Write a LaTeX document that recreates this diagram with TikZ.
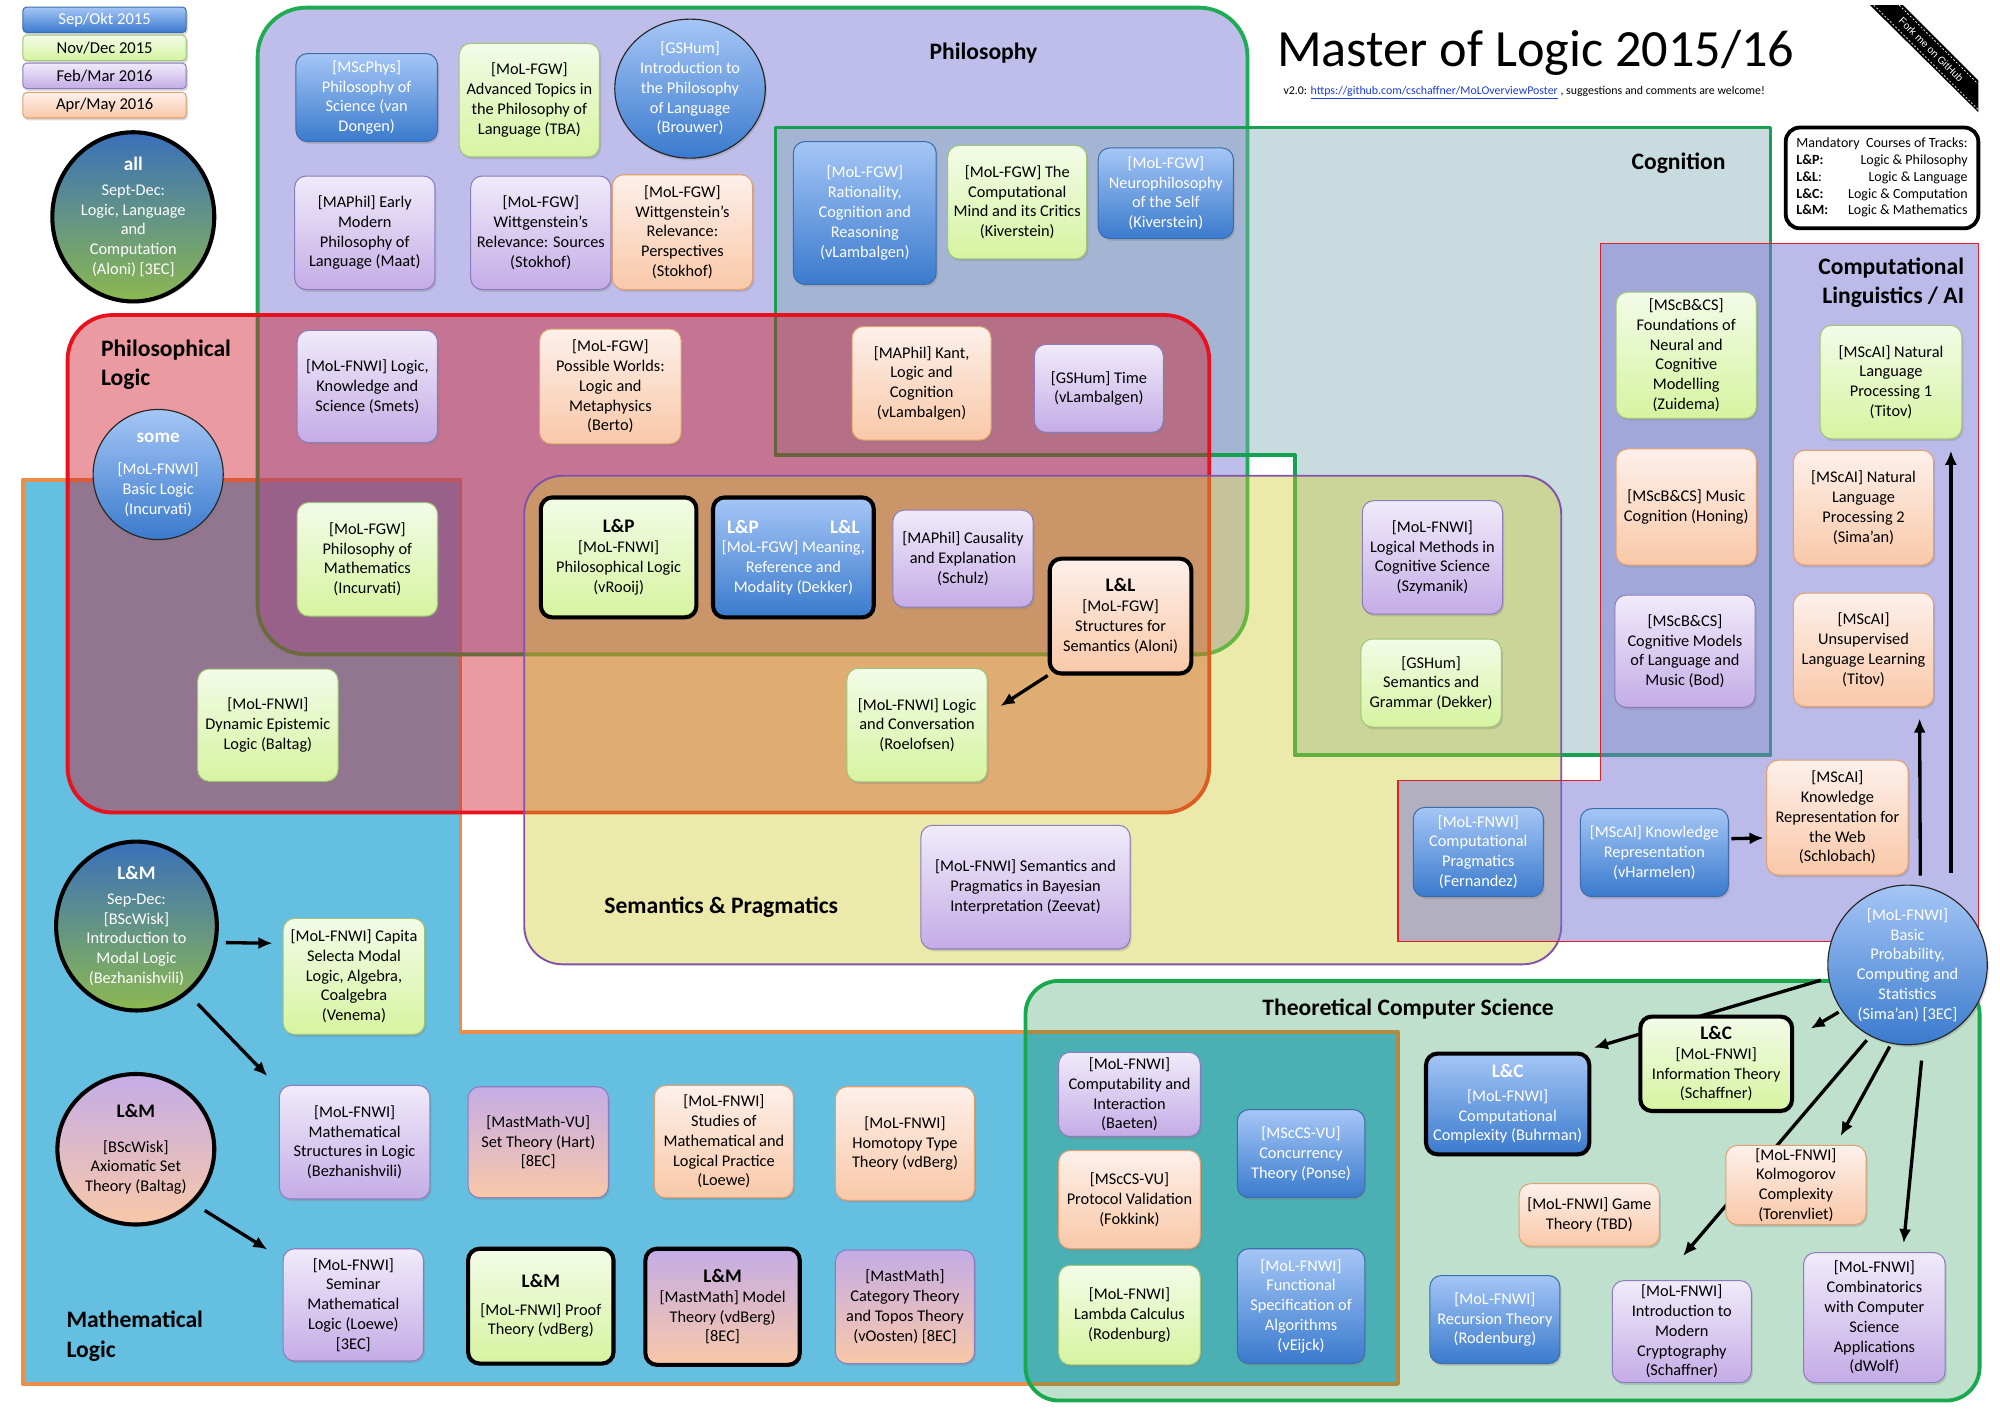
\documentclass[tikz,border=0pt]{standalone}
\usepackage{fontspec}
\setmainfont{Carlito}
\newfontfamily\ribbonfont{Liberation Sans}
\usepackage{xcolor}
\usetikzlibrary{shapes.geometric, arrows.meta, positioning, calc, shadows}

\newcommand\crsfont{\fontsize{12.8}{15.5}\selectfont}
\newcommand\hdfont{\fontsize{15}{18}\selectfont\bfseries}
\newcommand\legfont{\fontsize{13}{15}\selectfont}
\newcommand\areafont{\fontsize{18.5}{23}\selectfont\bfseries}
\newcommand\mandfont{\fontsize{11}{13.2}\selectfont}

% semester colours
\definecolor{sepTop}{RGB}{165,198,246}
\definecolor{sepBot}{RGB}{58,122,205}
\definecolor{sepLine}{RGB}{62,108,170}
\definecolor{novTop}{RGB}{243,251,232}
\definecolor{novBot}{RGB}{214,244,160}
\definecolor{novLine}{RGB}{160,196,120}
\definecolor{febTop}{RGB}{240,235,250}
\definecolor{febBot}{RGB}{196,172,230}
\definecolor{febLine}{RGB}{140,124,190}
\definecolor{aprTop}{RGB}{253,240,234}
\definecolor{aprBot}{RGB}{249,200,168}
\definecolor{aprLine}{RGB}{226,160,110}
\definecolor{allTop}{RGB}{58,112,186}
\definecolor{allBot}{RGB}{140,184,80}
\definecolor{linkBlue}{RGB}{30,60,220}
% region colours
\definecolor{mathFill}{RGB}{100,191,224}
\definecolor{mathLine}{RGB}{234,142,72}
\definecolor{philFill}{RGB}{127,123,211}
\definecolor{philLine}{RGB}{30,172,82}
\definecolor{cognFill}{RGB}{124,171,181}
\definecolor{cognLine}{RGB}{24,160,82}
\definecolor{plogFill}{RGB}{207,21,35}
\definecolor{plogLine}{RGB}{232,18,30}
\definecolor{semFill}{RGB}{207,202,42}
\definecolor{semLine}{RGB}{128,82,168}
\definecolor{clFill}{RGB}{122,118,210}
\definecolor{clLine}{RGB}{226,30,40}
\definecolor{tcsFill}{RGB}{0,132,52}
\definecolor{tcsLine}{RGB}{24,168,78}

\pgfdeclarelayer{regions}
\pgfdeclarelayer{links}
\pgfsetlayers{regions,links,main}

\tikzset{
  course/.style={rounded corners=9pt, line width=0.8pt, align=center, font=\crsfont, inner sep=1pt,
    drop shadow={opacity=0.3, shadow xshift=1.2pt, shadow yshift=-1.8pt}},
  sepokt/.style={course, draw=sepLine, top color=sepTop, bottom color=sepBot, text=white},
  novdec/.style={course, draw=novLine, top color=novTop, bottom color=novBot},
  febmar/.style={course, draw=febLine, top color=febTop, bottom color=febBot},
  aprmay/.style={course, draw=aprLine, top color=aprTop, bottom color=aprBot},
  mixed/.style={course, draw=febLine, top color=febBot, bottom color=aprBot},
  track/.style={draw=black, line width=3.2pt},
  thinline/.style={draw=black!85, line width=0.9pt},
  circnode/.style={ellipse, inner sep=0pt},
  legend/.style={minimum width=128pt, minimum height=20pt, rounded corners=3pt, font=\legfont},
  region/.style={line width=3pt, line join=round},
  area/.style={font=\areafont, align=left, inner sep=0pt},
  arr/.style={-{Latex[length=11pt,width=9.5pt]}, line width=2.6pt},
}

\begin{document}
\begin{tikzpicture}[x=1pt, y=-1pt]
    \useasboundingbox (0,0) rectangle (1568,1109);

    % Areas
    \begin{pgfonlayer}{regions}
    \draw[region, draw=mathLine, fill=mathFill] (18,376) -- (361,376) -- (361,809) -- (1096,809) -- (1096,1085) -- (18,1085) -- cycle;
    \draw[region, draw=philLine, fill=philFill, fill opacity=0.5, rounded corners=38pt] (202,6) rectangle (978,513);
    \draw[region, draw=cognLine, fill=cognFill, fill opacity=0.42] (608,100) -- (1388,100) -- (1388,592) -- (1015,592) -- (1015,357) -- (608,357) -- cycle;
    \draw[region, draw=plogLine, fill=plogFill, fill opacity=0.43, rounded corners=35pt] (53,247) rectangle (948,637);
    \draw[region, line width=1.5pt, draw=semLine, fill=semFill, fill opacity=0.4, rounded corners=30pt] (411,373) rectangle (1224,756);
    \draw[region, line width=1pt, draw=clLine, fill=clFill, fill opacity=0.5] (1255,191) -- (1551,191) -- (1551,738) -- (1096,738) -- (1096,612) -- (1255,612) -- cycle;
    \draw[region, draw=tcsLine, fill=tcsFill, fill opacity=0.25, rounded corners=26pt] (804,769) rectangle (1552,1098);
    \end{pgfonlayer}

    % Area titles
    \node[area] (tPhil) at (771,42) {Philosophy};
    \node[area] (tCogn) at (1316,128) {Cognition};
    \node[area, anchor=west] (tPlog) at (79,286) {Philosophical\\Logic};
    \node[area, anchor=east, align=right] (tCL) at (1540,221.5) {Computational\\Linguistics / AI};
    \node[area] (tSem) at (565.5,711) {Semantics \& Pragmatics};
    \node[area, anchor=west] (tMath) at (52,1047.5) {Mathematical\\Logic};
    \node[area] (tTCS) at (1104,791) {Theoretical Computer Science};

    % Legend
    \node[sepokt, legend] (legSep) at (82,15.5) {Sep/Okt 2015};
    \node[novdec, legend] (legNov) at (82,37.5) {Nov/Dec 2015};
    \node[febmar, legend] (legFeb) at (82,59.5) {Feb/Mar 2016};
    \node[aprmay, legend] (legApr) at (82,82.5) {Apr/May 2016};
    \node[course, circnode, track, top color=allTop, bottom color=allBot, text=white, minimum width=127pt, minimum height=121pt] (allCirc) at (104.5,170) {{\hdfont all}\\[4pt]Sept-Dec:\\Logic, Language\\and\\Computation\\(Aloni) [3EC]};

    % Title
    \node[font=\fontsize{41}{45}\selectfont, anchor=base] (title) at (1204,52) {Master of Logic 2015/16};
    \node[font=\fontsize{9.3}{11}\selectfont, anchor=base] (version) at (1195,74) {v2.0: \textcolor{linkBlue}{\underline{https://github.com/cschaffner/MoLOverviewPoster}} , suggestions and comments are welcome!};
    \node[draw, fill=white, line width=3pt, rounded corners=11pt, minimum width=151pt, minimum height=79pt, font=\mandfont, inner sep=0pt] (tracks) at (1475.5,139.5) {\begin{tabular}{@{}l@{}r@{}}
      \multicolumn{2}{@{}l@{}}{Mandatory\ \ Courses of Tracks:}\\
      \textbf{L\&P:} & Logic \& Philosophy\\
      \textbf{L\&L}: & Logic \& Language\\
      \textbf{L\&C:} & Logic \& Computation\\
      \textbf{L\&M:} & Logic \& Mathematics
    \end{tabular}};

    % Fork ribbon
    \fill (1466,4) -- (1492,4) -- (1551,63) -- (1551,88) -- cycle;
    \draw[white, line width=0.5pt, dash pattern=on 1.5pt off 1.5pt] (1469,4) -- (1551,86) (1489,4) -- (1551,66);
    \node[text=white, font=\ribbonfont\fontsize{8}{9}\selectfont, rotate=-45, inner sep=0pt] (fork) at (1514,39) {Fork me on GitHub};

    % Philosophy
    \node[sepokt, minimum width=111pt, minimum height=69pt] (phSci) at (287.5,76.5) {[MScPhys]\\Philosophy of\\Science (van\\Dongen)};
    \node[novdec, minimum width=110pt, minimum height=89pt] (phAdv) at (415,78.5) {[MoL-FGW]\\Advanced Topics in\\the Philosophy of\\Language (TBA)};
    \node[sepokt, circnode, thinline, minimum width=118pt, minimum height=109pt] (phIntro) at (541,69.5) {[GSHum]\\Introduction to\\the Philosophy\\of Language\\(Brouwer)};
    \node[febmar, minimum width=110pt, minimum height=89pt] (phEarly) at (286,182.5) {[MAPhil] Early\\Modern\\Philosophy of\\Language (Maat)};
    \node[febmar, minimum width=110pt, minimum height=89pt] (phWittA) at (424,182.5) {[MoL-FGW]\\Wittgenstein's\\Relevance: Sources\\(Stokhof)};
    \node[aprmay, minimum width=110pt, minimum height=90pt] (phWittB) at (535,182) {[MoL-FGW]\\Wittgenstein's\\Relevance:\\Perspectives\\(Stokhof)};

    % Cognition
    \node[sepokt, minimum width=112pt, minimum height=112pt] (cgRat) at (678,167) {[MoL-FGW]\\Rationality,\\Cognition and\\Reasoning\\(vLambalgen)};
    \node[novdec, minimum width=109pt, minimum height=89pt] (cgMind) at (797.5,158.5) {[MoL-FGW] The\\Computational\\Mind and its Critics\\(Kiverstein)};
    \node[sepokt, minimum width=106pt, minimum height=71pt] (cgSelf) at (914,151.5) {[MoL-FGW]\\Neurophilosophy\\of the Self\\(Kiverstein)};

    % Philosophical Logic
    \node[febmar, minimum width=110pt, minimum height=88pt] (plSmets) at (288,303) {[MoL-FNWI] Logic,\\Knowledge and\\Science (Smets)};
    \node[aprmay, minimum width=111pt, minimum height=90pt] (plWorlds) at (478.5,303) {[MoL-FGW]\\Possible Worlds:\\Logic and\\Metaphysics\\(Berto)};
    \node[aprmay, minimum width=109pt, minimum height=89pt] (plKant) at (722.5,300.5) {[MAPhil] Kant,\\Logic and\\Cognition\\(vLambalgen)};
    \node[febmar, minimum width=101pt, minimum height=69pt] (plTime) at (861.5,304.5) {[GSHum] Time\\(vLambalgen)};
    \node[sepokt, circnode, thinline, minimum width=102pt, minimum height=102pt] (plBasic) at (124,372) {{\hdfont some}\\[10pt]{[MoL-FNWI]}\\Basic Logic\\(Incurvati)};
    \node[novdec, minimum width=110pt, minimum height=89pt] (plMath) at (288,438.5) {[MoL-FGW]\\Philosophy of\\Mathematics\\(Incurvati)};
    \node[novdec, minimum width=110pt, minimum height=88pt] (plDEL) at (210,568.5) {[MoL-FNWI]\\Dynamic Epistemic\\Logic (Baltag)};

    % Semantics & Pragmatics
    \node[novdec, track, minimum width=122pt, minimum height=94pt] (spPhil) at (485,437) {{\hdfont L\&P}\\{[MoL-FNWI]}\\Philosophical Logic\\(vRooij)};
    \node[sepokt, track, minimum width=126pt, minimum height=94pt] (spMeaning) at (622,437) {\makebox[104pt]{\hdfont L\&P\hfill L\&L}\\{[MoL-FGW]} Meaning,\\Reference and\\Modality (Dekker)};
    \node[febmar, minimum width=110pt, minimum height=76pt] (spCaus) at (755,438) {[MAPhil] Causality\\and Explanation\\(Schulz)};
    \node[aprmay, track, minimum width=111pt, minimum height=90pt] (spStruct) at (878.5,483) {{\hdfont L\&L}\\{[MoL-FGW]}\\Structures for\\Semantics (Aloni)};
    \node[novdec, minimum width=110pt, minimum height=89pt] (spConv) at (719,568.5) {[MoL-FNWI] Logic\\and Conversation\\(Roelofsen)};
    \node[febmar, minimum width=164pt, minimum height=97pt] (spBayes) at (804,695.5) {[MoL-FNWI] Semantics and\\Pragmatics in Bayesian\\Interpretation (Zeevat)};
    \node[febmar, minimum width=110pt, minimum height=89pt] (spLogMeth) at (1123,437) {[MoL-FNWI]\\Logical Methods in\\Cognitive Science\\(Szymanik)};
    \node[novdec, minimum width=110pt, minimum height=69pt] (spGrammar) at (1122,535.5) {[GSHum]\\Semantics and\\Grammar (Dekker)};

    % Computational Linguistics / AI
    \node[novdec, minimum width=110pt, minimum height=99pt] (clNeural) at (1322,278.5) {[MScB\&CS]\\Foundations of\\Neural and\\Cognitive\\Modelling\\(Zuidema)};
    \node[aprmay, minimum width=110pt, minimum height=91pt] (clMusic) at (1322,397.5) {[MScB\&CS] Music\\Cognition (Honing)};
    \node[febmar, minimum width=110pt, minimum height=88pt] (clModels) at (1321,510.5) {[MScB\&CS]\\Cognitive Models\\of Language and\\Music (Bod)};
    \node[novdec, minimum width=111pt, minimum height=89pt] (clNLPa) at (1482.5,299.5) {[MScAI] Natural\\Language\\Processing 1\\(Titov)};
    \node[aprmay, minimum width=110pt, minimum height=90pt] (clNLPb) at (1461,398) {[MScAI] Natural\\Language\\Processing 2\\(Sima'an)};
    \node[aprmay, minimum width=110pt, minimum height=89pt] (clULL) at (1461,509.5) {[MScAI]\\Unsupervised\\Language Learning\\(Titov)};
    \node[sepokt, minimum width=102pt, minimum height=70pt] (clPrag) at (1159,668) {[MoL-FNWI]\\Computational\\Pragmatics\\(Fernandez)};
    \node[sepokt, minimum width=116pt, minimum height=69pt] (clKR) at (1297,668.5) {[MScAI] Knowledge\\Representation\\(vHarmelen)};
    \node[aprmay, minimum width=111pt, minimum height=90pt] (clKRWeb) at (1440.5,641) {[MScAI]\\Knowledge\\Representation for\\the Web\\(Schlobach)};
    \node[sepokt, circnode, thinline, minimum width=125pt, minimum height=123pt] (clProb) at (1495.5,756.5) {[MoL-FNWI]\\Basic\\Probability,\\Computing and\\Statistics\\(Sima'an) [3EC]};

    % Theoretical Computer Science
    \node[febmar, minimum width=111pt, minimum height=66pt] (csComp) at (885.5,858) {[MoL-FNWI]\\Computability and\\Interaction\\(Baeten)};
    \node[aprmay, minimum width=111pt, minimum height=77pt] (csProt) at (885.5,940.5) {[MScCS-VU]\\Protocol Validation\\(Fokkink)};
    \node[novdec, minimum width=111pt, minimum height=78pt] (csLambda) at (885.5,1031) {[MoL-FNWI]\\Lambda Calculus\\(Rodenburg)};
    \node[sepokt, minimum width=100pt, minimum height=69pt] (csConc) at (1020,904.5) {[MScCS-VU]\\Concurrency\\Theory (Ponse)};
    \node[sepokt, minimum width=100pt, minimum height=90pt] (csFunc) at (1020,1024) {[MoL-FNWI]\\Functional\\Specification of\\Algorithms\\(vEijck)};
    \node[sepokt, track, minimum width=128pt, minimum height=79pt] (csCompl) at (1182,865.5) {{\hdfont L\&C}\\[3pt]{[MoL-FNWI]}\\Computational\\Complexity (Buhrman)};
    \node[novdec, track, minimum width=119pt, minimum height=74pt] (csInfo) at (1345.5,834) {{\hdfont L\&C}\\{[MoL-FNWI]}\\Information Theory\\(Schaffner)};
    \node[aprmay, minimum width=110pt, minimum height=49pt] (csGame) at (1246,952.5) {[MoL-FNWI] Game\\Theory (TBD)};
    \node[aprmay, minimum width=110pt, minimum height=62pt] (csKolm) at (1408,929) {[MoL-FNWI]\\Kolmogorov\\Complexity\\(Torenvliet)};
    \node[sepokt, minimum width=102pt, minimum height=69pt] (csRec) at (1172,1034.5) {[MoL-FNWI]\\Recursion Theory\\(Rodenburg)};
    \node[febmar, minimum width=109pt, minimum height=80pt] (csCrypt) at (1318.5,1044) {[MoL-FNWI]\\Introduction to\\Modern\\Cryptography\\(Schaffner)};
    \node[febmar, minimum width=111pt, minimum height=102pt] (csComb) at (1469.5,1033) {[MoL-FNWI]\\Combinatorics\\with Computer\\Science\\Applications\\(dWolf)};

    % Mathematical Logic
    \node[course, circnode, track, top color=allTop, bottom color=allBot, text=white, minimum width=126pt, minimum height=126pt] (mlModal) at (107,726) {{\hdfont L\&M}\\[4pt]Sep-Dec:\\{[BScWisk]}\\Introduction to\\Modal Logic\\(Bezhanishvili)};
    \node[course, circnode, track, top color=febBot, bottom color=aprBot, minimum width=123pt, minimum height=118pt] (mlSet) at (106.5,901) {{\hdfont L\&M}\\[12pt]{[BScWisk]}\\Axiomatic Set\\Theory (Baltag)};
    \node[novdec, minimum width=111pt, minimum height=91pt] (mlCapita) at (277.5,765.5) {[MoL-FNWI] Capita\\Selecta Modal\\Logic, Algebra,\\Coalgebra\\(Venema)};
    \node[febmar, minimum width=118pt, minimum height=89pt] (mlStruct) at (278,895.5) {[MoL-FNWI]\\Mathematical\\Structures in Logic\\(Bezhanishvili)};
    \node[mixed, minimum width=110pt, minimum height=87pt] (mlSetTh) at (422,895.5) {[MastMath-VU]\\Set Theory (Hart)\\{[8EC]}};
    \node[aprmay, minimum width=109pt, minimum height=88pt] (mlPract) at (567.5,895) {[MoL-FNWI]\\Studies of\\Mathematical and\\Logical Practice\\(Loewe)};
    \node[aprmay, minimum width=109pt, minimum height=89pt] (mlHomo) at (709.5,896.5) {[MoL-FNWI]\\Homotopy Type\\Theory (vdBerg)};
    \node[febmar, minimum width=110pt, minimum height=88pt] (mlSem) at (277,1023) {[MoL-FNWI]\\Seminar\\Mathematical\\Logic (Loewe)\\{[3EC]}};
    \node[novdec, track, minimum width=114pt, minimum height=90pt] (mlProof) at (424,1024) {{\hdfont L\&M}\\[6pt]{[MoL-FNWI]} Proof\\Theory (vdBerg)};
    \node[mixed, track, minimum width=121pt, minimum height=91pt] (mlModel) at (566.5,1024.5) {{\hdfont L\&M}\\{[MastMath]} Model\\Theory (vdBerg)\\{[8EC]}};
    \node[mixed, minimum width=109pt, minimum height=89pt] (mlCat) at (709.5,1024.5) {[MastMath]\\Category Theory\\and Topos Theory\\(vOosten) [8EC]};

    % Prerequisite arrows
    \begin{pgfonlayer}{links}
    \draw[arr] (spStruct.south west) -- ([shift={(10,-15)}]spConv.east);
    \draw[arr] ([shift={(70,13)}]mlModal.center) -- ([shift={(-8,-26)}]mlCapita.west);
    \draw[arr] ([shift={(48,61)}]mlModal.center) -- ([shift={(-9,-7)}]mlStruct.north west);
    \draw[arr] ([shift={(54,48)}]mlSet.center) -- ([shift={(-12,1)}]mlSem.north west);
    \draw[arr] ([shift={(2,-11)}]clKR.east) -- ([shift={(-2,16)}]clKRWeb.west);
    \draw[arr] ([shift={(10,-70)}]clProb.center) -- ([shift={(44,9)}]clULL.south);
    \draw[arr] ([shift={(34,-72)}]clProb.center) -- ([shift={(47,9)}]clNLPa.south);
    \draw[arr] ([shift={(-68,12)}]clProb.center) -- ([shift={(2,-3)}]csCompl.north east);
    \draw[arr] ([shift={(-54,37)}]clProb.center) -- ([shift={(13,11)}]csInfo.north east);
    \draw[arr] ([shift={(-32,59)}]clProb.center) -- ([shift={(1,-19)}]csCrypt.north);
    \draw[arr] ([shift={(-14,64)}]clProb.center) -- ([shift={(35,-7)}]csKolm.north);
    \draw[arr] ([shift={(11,75)}]clProb.center) -- ([shift={(23,-7)}]csComb.north);
    \end{pgfonlayer}

\end{tikzpicture}
\end{document}
